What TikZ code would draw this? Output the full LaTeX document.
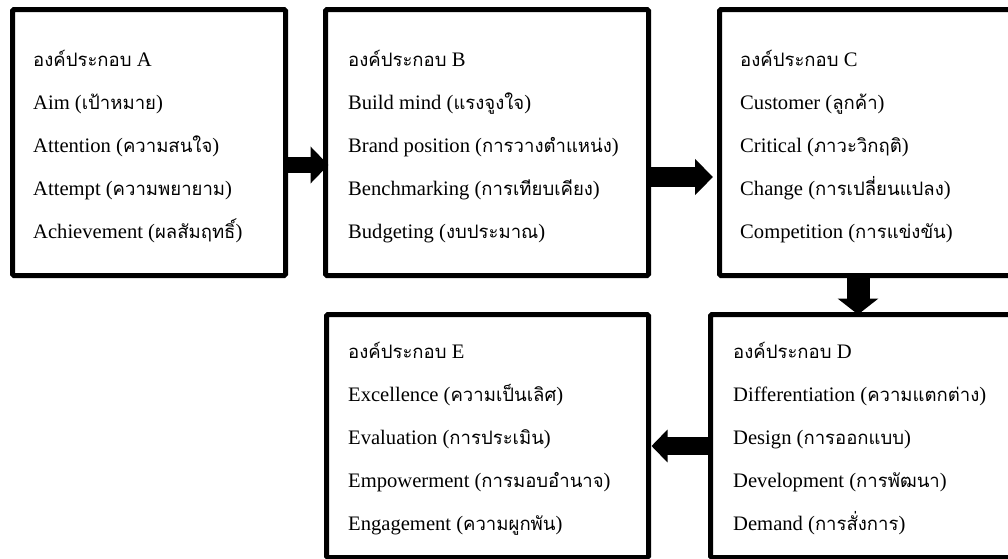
\documentclass[tikz,border=0pt]{standalone}
\usepackage{fontspec}
\setmainfont{Liberation Serif}
\newfontfamily\thai[Script=Thai,Scale=0.9]{Loma}
\newcommand\tw[1]{{\thai #1}}
\usetikzlibrary{arrows.meta}

\begin{document}
\begin{tikzpicture}[x=1pt,y=-1pt,
	box/.style={draw, line width=5pt, rounded corners=1.5pt, inner sep=0pt, outer sep=0pt},
	item/.style={anchor=base west, inner sep=0pt, font=\fontsize{20.6}{24}\selectfont}]
	%%%%% START %%%%%
	\useasboundingbox (0,0) rectangle (1008,558);
	\clip (0,0) rectangle (1008,558);
	
	% boxes
	\node[box, minimum width=273pt, minimum height=266pt] (A) at (149,142.5) {};
	\node[box, minimum width=323pt, minimum height=266pt] (B) at (487,142.5) {};
	\node[box, minimum width=295.5pt, minimum height=266pt] (C) at (867.25,142.5) {};
	\node[box, minimum width=304.5pt, minimum height=243pt] (D) at (862.75,436) {};
	\node[box, minimum width=322pt, minimum height=243pt] (E) at (487.5,436) {};
	
	% texts
	\foreach \t [count=\i] in {{\tw{องค์ประกอบ} A}, {Aim (\tw{เป้าหมาย})}, {Attention (\tw{ความสนใจ})}, {Attempt (\tw{ความพยายาม})}, {Achievement (\tw{ผลสัมฤทธิ์})}}
		\node[item] (A-\i) at (33,{66+43*(\i-1)}) {\t};
	\foreach \t [count=\i] in {{\tw{องค์ประกอบ} B}, {Build mind (\tw{แรงจูงใจ})}, {Brand position (\tw{การวางตำแหน่ง})}, {Benchmarking (\tw{การเทียบเคียง})}, {Budgeting (\tw{งบประมาณ})}}
		\node[item] (B-\i) at (348,{66+43*(\i-1)}) {\t};
	\foreach \t [count=\i] in {{\tw{องค์ประกอบ} C}, {Customer (\tw{ลูกค้า})}, {Critical (\tw{ภาวะวิกฤติ})}, {Change (\tw{การเปลี่ยนแปลง})}, {Competition (\tw{การแข่งขัน})}}
		\node[item] (C-\i) at (740,{66+43*(\i-1)}) {\t};
	\foreach \t [count=\i] in {{\tw{องค์ประกอบ} D}, {Differentiation (\tw{ความแตกต่าง})}, {Design (\tw{การออกแบบ})}, {Development (\tw{การพัฒนา})}, {Demand (\tw{การสั่งการ})}}
		\node[item] (D-\i) at (733,{358+43*(\i-1)}) {\t};
	\foreach \t [count=\i] in {{\tw{องค์ประกอบ} E}, {Excellence (\tw{ความเป็นเลิศ})}, {Evaluation (\tw{การประเมิน})}, {Empowerment (\tw{การมอบอำนาจ})}, {Engagement (\tw{ความผูกพัน})}}
		\node[item] (E-\i) at (348,{358+43*(\i-1)}) {\t};
	
	% arrows
	\draw[line width=16pt, -{Triangle[length=18pt,width=36pt]}] (A.east |- 0,165) -- ([xshift=3pt]B.west |- 0,165);
	\draw[line width=20pt, -{Triangle[length=18pt,width=35pt]}] (B.east |- 0,177) -- ([xshift=-6.5pt]C.west |- 0,177);
	\draw[line width=23pt, -{Triangle[length=16pt,width=40pt]}] (C.south -| 858,0) -- (D.north -| 858,0);
	\draw[line width=18pt, -{Triangle[length=16pt,width=32pt]}] (D.west |- 0,446) -- ([xshift=3pt]E.east |- 0,446);
	
	%%%%% END %%%%%
\end{tikzpicture}
\end{document}
